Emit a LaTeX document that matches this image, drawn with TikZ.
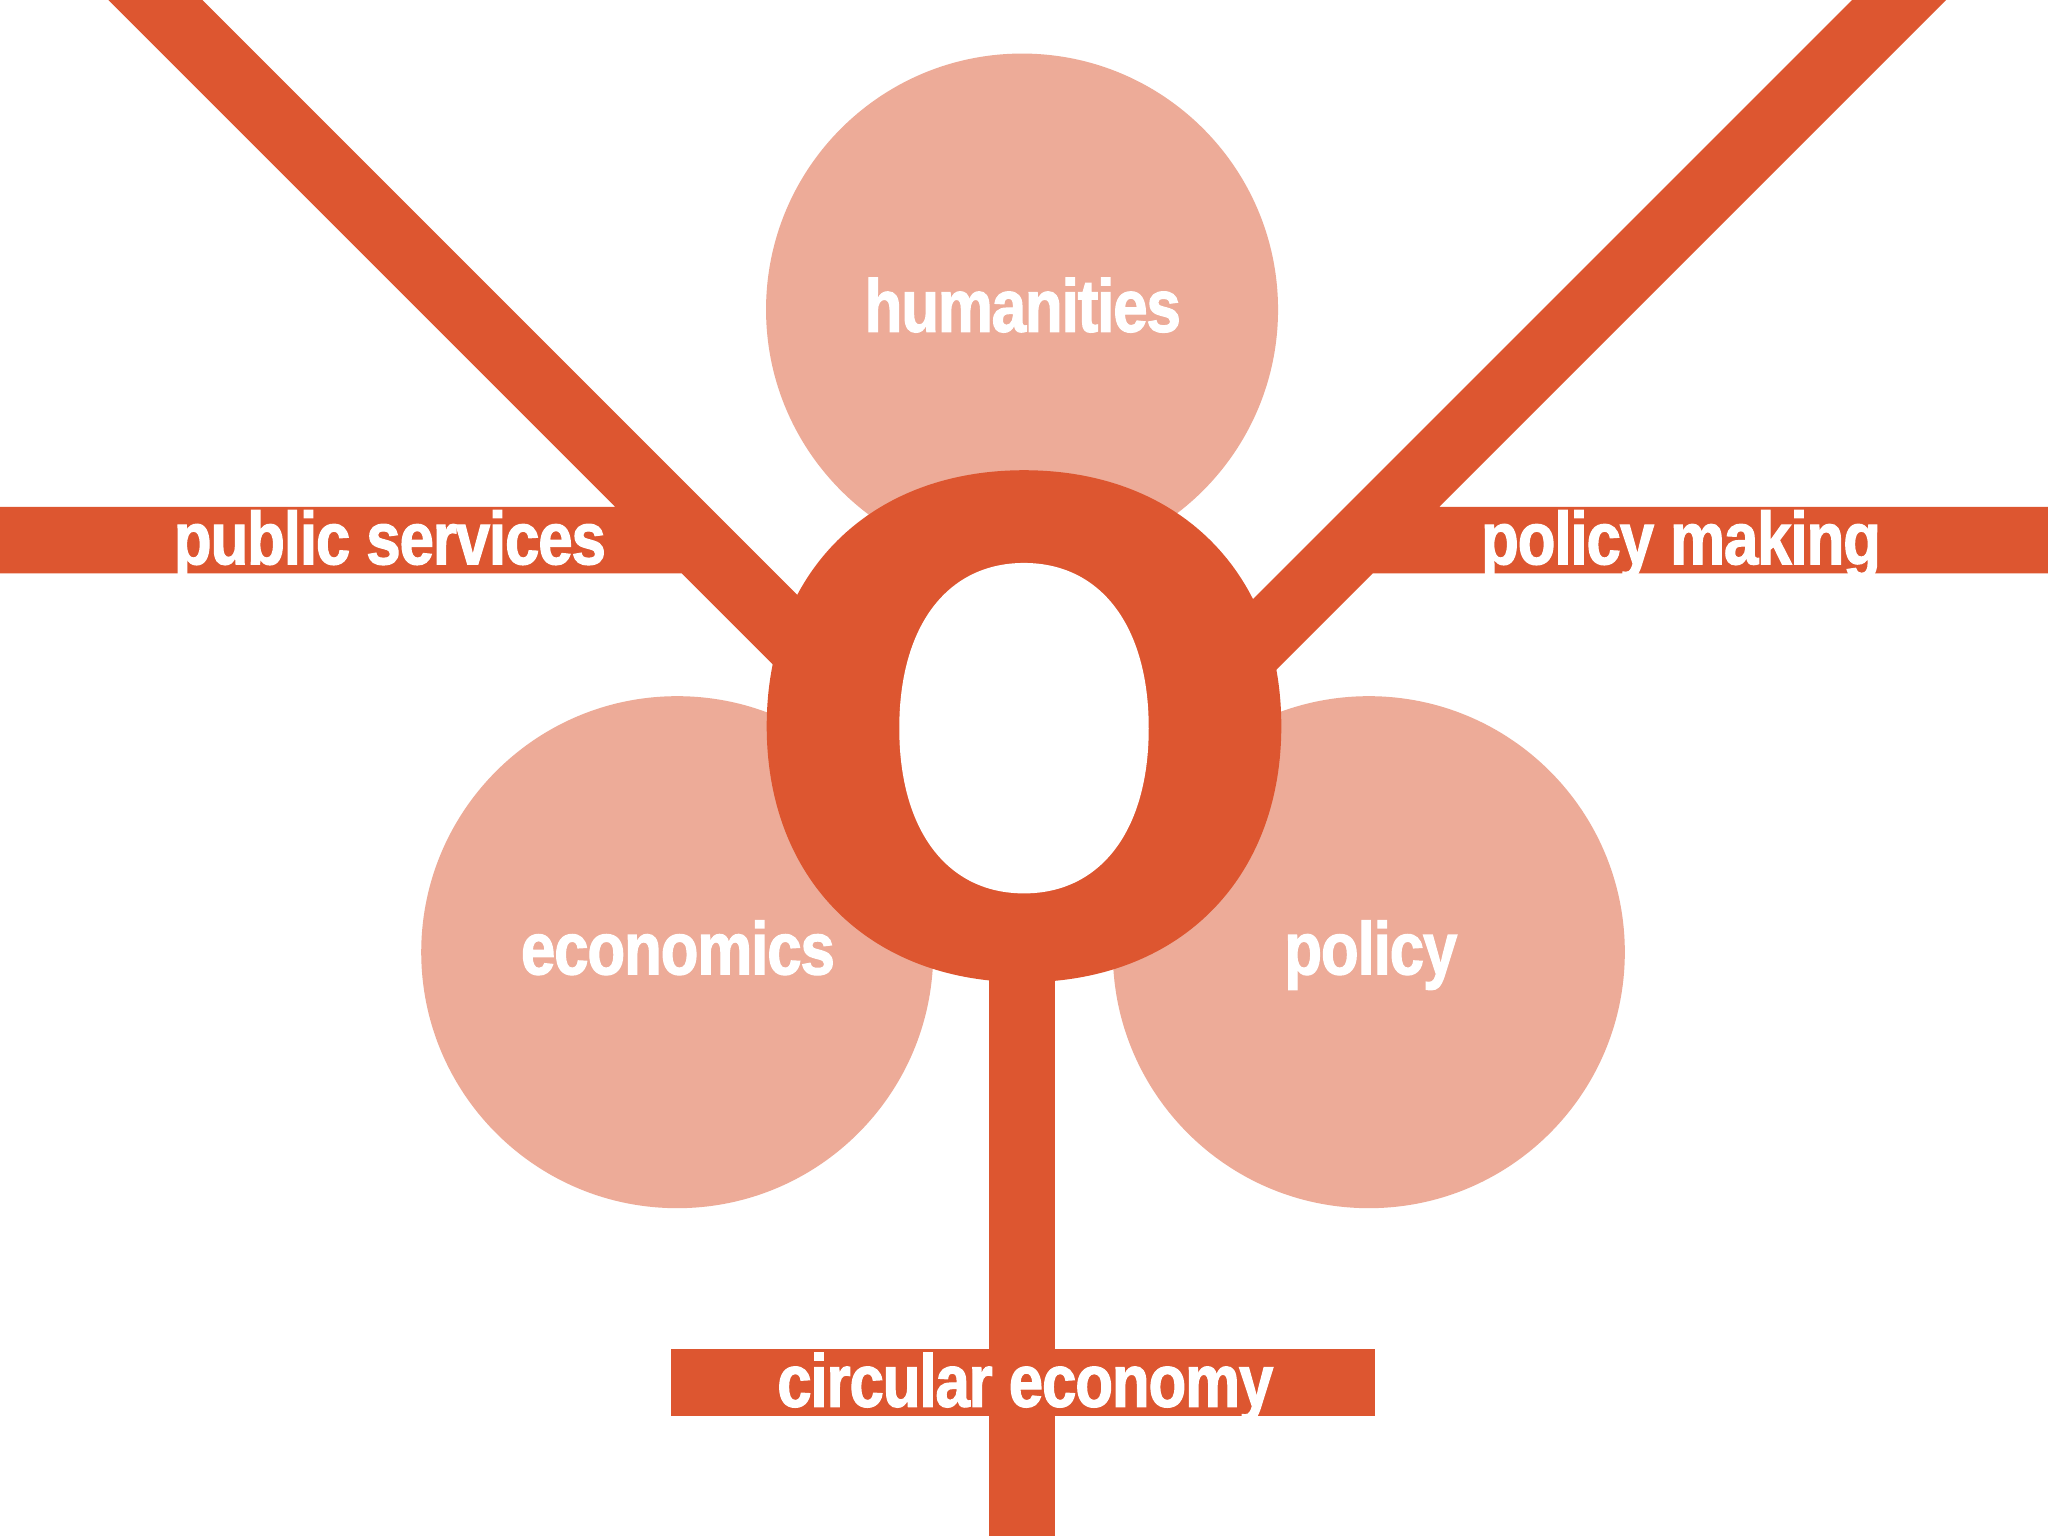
\documentclass[tikz,border=0pt]{standalone}
\usepackage{fontspec}
\newfontfamily\cond{Liberation Sans}[FakeStretch=0.83, FakeBold=1.6, LetterSpace=-1.5, UprightFont=* Bold]
\definecolor{rust}{RGB}{221,86,48}
\definecolor{blush}{RGB}{237,171,152}
\tikzset{
  bubble/.style={circle, fill=blush, minimum size=392pt, inner sep=0pt},
  lbl/.style={text=white, font=\cond\fontsize{57}{60}\selectfont, inner sep=0pt, anchor=base},
  arm/.style={fill=rust}
}
\begin{document}
\begin{tikzpicture}[x=1pt,y=-1pt]
\fill[white] (0,0) rectangle (1568,1176);
\useasboundingbox (0,0) rectangle (1568,1176);
% left arm with "public services" band
\fill[arm] (0,388) -- (471,388) -- (83,0) -- (155,0) -- (640,485) -- (604,521) -- (522,439) -- (0,439) -- cycle;
% right arm with "policy making" band
\fill[arm] (1568,388) -- (1102,388) -- (1490,0) -- (1418,0) -- (928,490) -- (964,526) -- (1051,439) -- (1568,439) -- cycle;
% stem and bottom band
\fill[arm] (757,700) rectangle (808,1176);
\fill[arm] (514,1033) rectangle (1053,1084);
% circles
\node[bubble] (hum) at (782.5,237) {};
\node[bubble] (eco) at (518.5,729) {};
\node[bubble] (pol) at (1048,729) {};
% big O
\fill[rust] (784,360) .. controls (902,360) and (981,438) .. (981,556)
  .. controls (981,674) and (902,752) .. (784,752)
  .. controls (666,752) and (587,674) .. (587,556)
  .. controls (587,438) and (666,360) .. (784,360) -- cycle;
% counter of the O
\fill[white] (784,431) .. controls (843,431) and (879.5,479.5) .. (879.5,557.5)
  .. controls (879.5,635.5) and (843,684) .. (784,684)
  .. controls (725,684) and (688.5,635.5) .. (688.5,557.5)
  .. controls (688.5,479.5) and (725,431) .. (784,431) -- cycle;
% labels
\node[lbl] (thum) at (783,254) {humanities};
\node[lbl] (tpub) at (298.5,432) {public services};
\node[lbl] (tpm) at (1287,432) {policy making};
\node[lbl] (teco) at (519,746) {economics};
\node[lbl] (tpol) at (1049.5,746) {policy};
\node[lbl] (tcirc) at (785,1077) {circular economy};
\end{tikzpicture}
\end{document}
